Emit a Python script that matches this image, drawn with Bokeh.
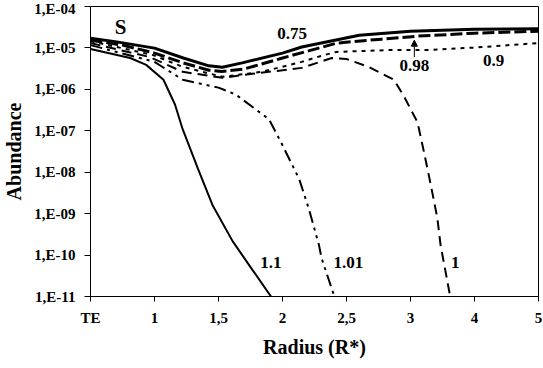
from bokeh.plotting import figure
from bokeh.models import (FixedTicker, CustomJSTickFormatter, Range1d, Label,
                          Arrow, NormalHead)
from bokeh.embed import file_html
from bokeh.resources import INLINE

# x positions are in axis units: 0=TE, 1=1, 2=1.5, 3=2, 4=2.5, 5=3, 6=4, 7=5
x_tick_labels = ["TE", "1", "1,5", "2", "2,5", "3", "4", "5"]
y_ticks = [1e-11, 1e-10, 1e-9, 1e-8, 1e-7, 1e-6, 1e-5, 1e-4]

x_075 = [0, 0.41, 1.0, 1.45, 1.85, 2.06, 2.37, 3.0, 3.3, 4.2, 5.0, 6.0, 7.0]
y_075 = [1.72e-5, 1.4e-5, 9.9e-6, 5.7e-6, 3.7e-6, 3.4e-6, 4.35e-6, 7.5e-6,
         1.05e-5, 2.03e-5, 2.53e-5, 2.82e-5, 2.9e-5]

x_098 = [0, 0.5, 1.0, 1.45, 1.85, 2.05, 2.4, 3.0, 3.85, 4.55, 5.1, 6.0, 7.0]
y_098 = [1.54e-5, 1.17e-5, 7.5e-6, 4.35e-6, 2.9e-6, 2.7e-6, 3.1e-6, 5.7e-6,
         1.31e-5, 1.63e-5, 1.92e-5, 2.27e-5, 2.53e-5]

x_09 = [0, 0.98, 1.44, 2.06, 2.68, 3.3, 3.6, 3.84, 4.69, 5.27, 6.0, 7.0]
y_09 = [1.46e-5, 6.7e-6, 3.5e-6, 2.01e-6, 2.65e-6, 4.6e-6, 6.4e-6, 8.0e-6,
        8.9e-6, 8.9e-6, 1.02e-5, 1.31e-5]

x_1 = [0, 0.93, 1.44, 2.06, 2.53, 3.3, 3.77, 4.0, 4.34, 4.74, 4.9, 5.11, 5.21,
       5.32, 5.42, 5.47, 5.62, 5.66]
y_1 = [1.31e-5, 6.0e-6, 2.65e-6, 1.9e-6, 2.37e-6, 3.3e-6, 5.7e-6, 5.4e-6,
       3.5e-6, 1.71e-6, 6.7e-7, 1.6e-7, 3.1e-8, 4.7e-9, 7.7e-10, 1.74e-10,
       1e-11, 6e-12]

x_101 = [0, 1.0, 1.44, 2.0, 2.27, 2.79, 2.99, 3.26, 3.41, 3.57, 3.61, 3.81, 3.84]
y_101 = [1.17e-5, 4.6e-6, 1.71e-6, 1.1e-6, 7.5e-7, 1.89e-7, 4.8e-8, 6.9e-9,
         1.33e-9, 1.74e-10, 8.5e-11, 1e-11, 6e-12]

x_11 = [0, 0.62, 0.87, 1.14, 1.32, 1.44, 1.68, 1.91, 2.22, 2.53, 2.82, 2.86]
y_11 = [9.4e-6, 5.7e-6, 3.9e-6, 1.71e-6, 4.3e-7, 1.09e-7, 1.2e-8, 1.57e-9,
        2.17e-10, 4.4e-11, 1e-11, 6e-12]

FONT = "Liberation Serif"

p = figure(width=543, height=360, x_range=Range1d(0, 7),
           y_range=Range1d(1e-11, 1e-4), y_axis_type="log",
           output_backend="svg", toolbar_location=None,
           min_border_left=87, min_border_right=5, min_border_top=6,
           min_border_bottom=56)
p.xgrid.visible = False
p.ygrid.visible = False
p.outline_line_color = "black"
p.outline_line_width = 1
p.background_fill_color = "white"
p.border_fill_color = "white"

# axes
p.xaxis.ticker = FixedTicker(ticks=list(range(len(x_tick_labels))))
p.xaxis.formatter = CustomJSTickFormatter(args=dict(labels=x_tick_labels),
                                          code="return labels[Math.round(tick)];")
p.yaxis.ticker = FixedTicker(ticks=y_ticks)
p.yaxis.formatter = CustomJSTickFormatter(code="""
const e = Math.round(Math.log10(tick));
const a = Math.abs(e);
return "1,E" + (e < 0 ? "-" : "+") + (a < 10 ? "0" + a : "" + a);
""")
for ax in (p.xaxis[0], p.yaxis[0]):
    ax.major_label_text_font = FONT
    ax.major_label_text_font_style = "bold"
    ax.major_label_text_font_size = "15px"
    ax.major_label_text_color = "black"
    ax.axis_label_text_font = FONT
    ax.axis_label_text_font_style = "bold"
    ax.axis_label_text_font_size = "20px"
    ax.axis_label_text_color = "black"
    ax.major_tick_in = 0
    ax.minor_tick_in = 0
    ax.minor_tick_out = 0
    ax.axis_line_color = "black"
    ax.major_tick_line_color = "black"
p.xaxis.major_tick_out = 5
p.yaxis.major_tick_out = 6
p.xaxis.major_label_standoff = 8
p.yaxis.major_label_standoff = 9
p.xaxis.axis_label = "Radius (R*)"
p.yaxis.axis_label = "Abundance"
p.xaxis.axis_label_standoff = 7
p.yaxis.axis_label_standoff = 6

# curves
p.line(x_075, y_075, line_color="black", line_width=3)
p.line(x_098, y_098, line_color="black", line_width=3, line_dash="12 4")
p.line(x_09, y_09, line_color="black", line_width=2, line_dash="4 5")
p.line(x_1, y_1, line_color="black", line_width=2, line_dash="10 6")
p.line(x_101, y_101, line_color="black", line_width=2, line_dash="12 5 3 5 3 5")
p.line(x_11, y_11, line_color="black", line_width=2)

def lab(x, y, t, size="17px"):
    p.add_layout(Label(x=x, y=y, text=t, text_align="center",
                       text_baseline="middle", text_font=FONT,
                       text_font_style="bold", text_font_size=size,
                       text_color="black"))

lab(0.47, 3.2e-5, "S", "21px")
lab(3.15, 2.27e-5, "0.75")
lab(5.06, 3.7e-6, "0.98")
lab(6.3, 5.1e-6, "0.9")
lab(2.82, 6.8e-11, "1.1")
lab(4.03, 6.8e-11, "1.01")
lab(5.70, 6.8e-11, "1")

p.add_layout(Arrow(end=NormalHead(size=6, fill_color="black", line_color="black"),
                   x_start=5.06, y_start=6.0e-6, x_end=5.06, y_end=1.54e-5,
                   line_color="black", line_width=1))

open("out.html", "w").write(file_html(p, INLINE))
